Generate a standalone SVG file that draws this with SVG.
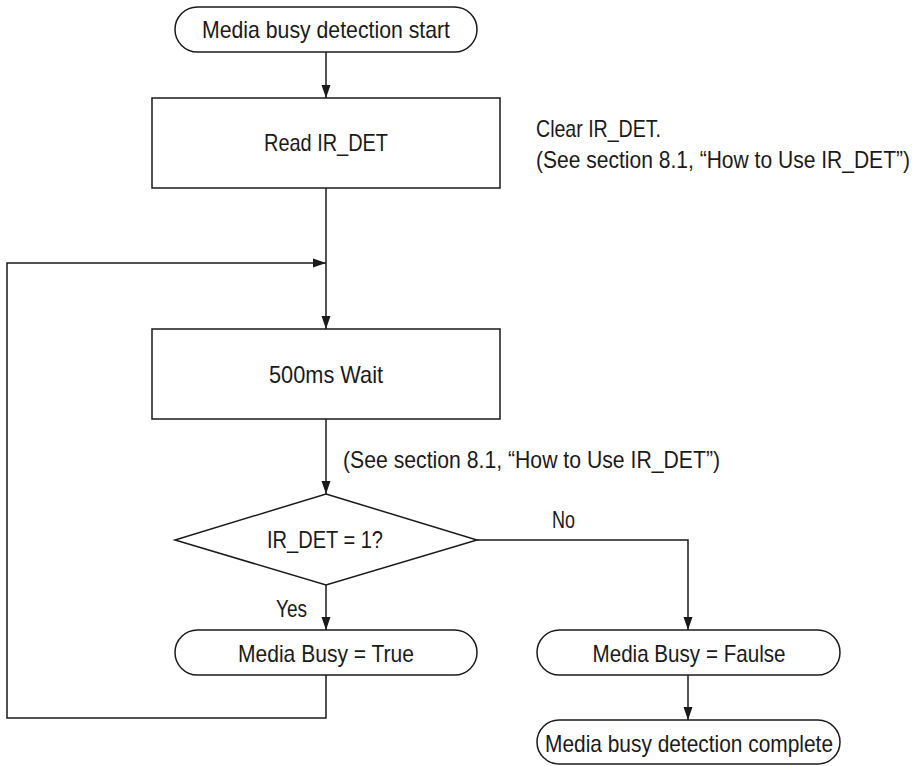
<svg xmlns="http://www.w3.org/2000/svg" width="919" height="766" viewBox="0 0 919 766">
  <style>
    .shape { fill: #ffffff; stroke: #1a1a1a; stroke-width: 1.5; }
    .wire { fill: none; stroke: #1a1a1a; stroke-width: 1.5; }
    text { font-family: "Liberation Sans", Arial, sans-serif; font-size: 24px; fill: #1a1a1a; }
    .c { text-anchor: middle; }
    .e { text-anchor: end; }
  </style>
  <defs>
    <marker id="arrow" markerUnits="userSpaceOnUse" markerWidth="14" markerHeight="10" refX="13" refY="5" orient="auto">
      <path d="M0,0.5 L13,5 L0,9.5 Z" fill="#1a1a1a"/>
    </marker>
  </defs>
  <rect width="919" height="766" fill="#ffffff"/>

  <g id="connectors">
    <line class="wire" x1="326" y1="52" x2="326" y2="98" marker-end="url(#arrow)"/>
    <line class="wire" x1="326" y1="188" x2="326" y2="329" marker-end="url(#arrow)"/>
    <polyline class="wire" points="326,675 326,718 7,718 7,263 326,263" marker-end="url(#arrow)"/>
    <line class="wire" x1="326" y1="419" x2="326" y2="494" marker-end="url(#arrow)"/>
    <line class="wire" x1="326" y1="585" x2="326" y2="630" marker-end="url(#arrow)"/>
    <polyline class="wire" points="477,540 688,540 688,630" marker-end="url(#arrow)"/>
    <line class="wire" x1="688" y1="675" x2="688" y2="720" marker-end="url(#arrow)"/>
  </g>

  <g id="start">
    <rect class="shape" x="175" y="7" width="302" height="45" rx="22.5"/>
    <text class="c" x="326" y="38" textLength="248" lengthAdjust="spacingAndGlyphs">Media busy detection start</text>
  </g>

  <g id="read">
    <rect class="shape" x="152" y="98" width="348" height="90"/>
    <text class="c" x="326" y="151" textLength="124" lengthAdjust="spacingAndGlyphs">Read IR_DET</text>
  </g>

  <g id="read-note">
    <text x="536" y="137" textLength="125" lengthAdjust="spacingAndGlyphs">Clear IR_DET.</text>
    <text class="e" x="910" y="168" textLength="374" lengthAdjust="spacingAndGlyphs">(See section 8.1, “How to Use IR_DET”)</text>
  </g>

  <g id="wait">
    <rect class="shape" x="152" y="329" width="348" height="90"/>
    <text class="c" x="326" y="383" textLength="114" lengthAdjust="spacingAndGlyphs">500ms Wait</text>
  </g>

  <g id="wait-note">
    <text x="343" y="468" textLength="377" lengthAdjust="spacingAndGlyphs">(See section 8.1, “How to Use IR_DET”)</text>
  </g>

  <g id="check">
    <polygon class="shape" points="326,494 477,540 326,585 175,540"/>
    <text class="c" x="325" y="548" textLength="116" lengthAdjust="spacingAndGlyphs">IR_DET = 1?</text>
    <text x="552" y="528" textLength="23" lengthAdjust="spacingAndGlyphs">No</text>
    <text x="276" y="617" textLength="31" lengthAdjust="spacingAndGlyphs">Yes</text>
  </g>

  <g id="busy-true">
    <rect class="shape" x="175" y="630" width="302" height="45" rx="22.5"/>
    <text class="c" x="326" y="662" textLength="176" lengthAdjust="spacingAndGlyphs">Media Busy = True</text>
  </g>

  <g id="busy-false">
    <rect class="shape" x="537" y="630" width="303" height="45" rx="22.5"/>
    <text class="c" x="689" y="662" textLength="193" lengthAdjust="spacingAndGlyphs">Media Busy = Faulse</text>
  </g>

  <g id="complete">
    <rect class="shape" x="537" y="720" width="303" height="44" rx="22"/>
    <text class="c" x="689" y="752" textLength="288" lengthAdjust="spacingAndGlyphs">Media busy detection complete</text>
  </g>
</svg>
